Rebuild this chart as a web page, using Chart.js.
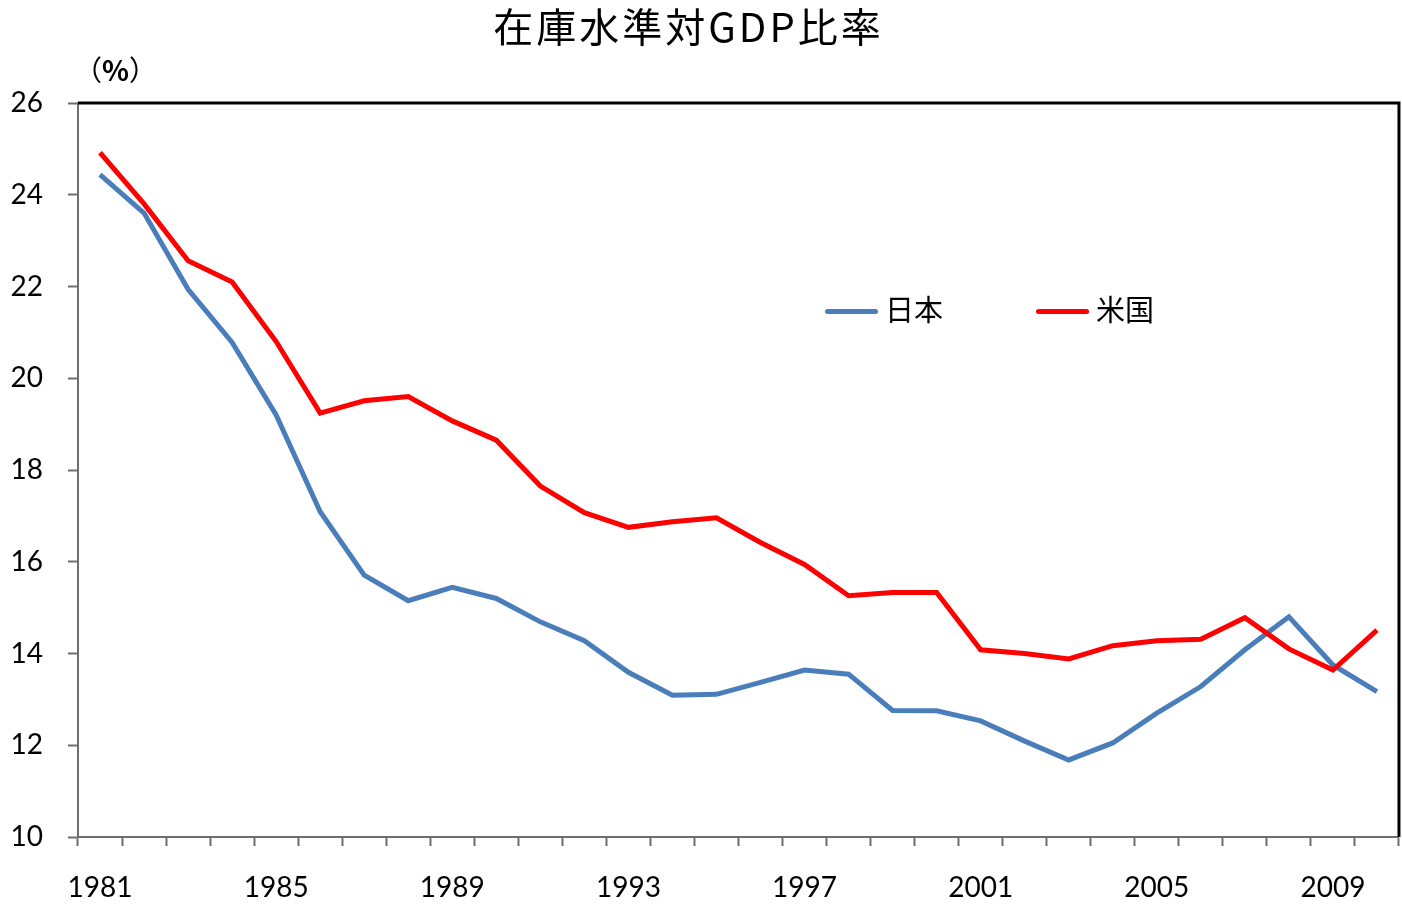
<!DOCTYPE html>
<html>
<head>
<meta charset="utf-8">
<script src="https://cdn.jsdelivr.net/npm/chart.js@4/dist/chart.umd.min.js"></script>
<style>
  html, body { margin: 0; padding: 0; background: #fff; }
  #wrap { position: relative; width: 1402px; height: 909px; }
  #title { position: absolute; left: 0; top: -3px; width: 1377px; text-align: center;
    font: 40px "Noto Sans CJK JP"; letter-spacing: 3px; color: #000; line-height: 56px; }
  #unit { position: absolute; left: 74px; top: 50px; font: 28px "Noto Sans CJK JP"; color: #000; line-height: 38px; }
  #unit b { font-weight: 700; }
  #legend { position: absolute; top: 289px; left: 825px; font: 29px "Noto Sans CJK JP"; color: #000; }
  .item { position: absolute; top: 0; white-space: nowrap; line-height: 38px; }
  .swatch { display: inline-block; width: 53px; height: 5px; border-radius: 3px; vertical-align: middle; margin-right: 7px; position: relative; top: -2px; }
</style>
</head>
<body>
<div id="wrap">
  <canvas id="myChart" width="1402" height="909"></canvas>
  <div id="title">在庫水準対GDP比率</div>
  <div id="unit">（<b>%</b>）</div>
  <div id="legend"></div>
</div>
<script>
const years = ['1981','1982','1983','1984','1985','1986','1987','1988','1989','1990',
               '1991','1992','1993','1994','1995','1996','1997','1998','1999','2000',
               '2001','2002','2003','2004','2005','2006','2007','2008','2009','2010'];
const shownYears = ['1981','1985','1989','1993','1997','2001','2005','2009'];
const japan = [24.44, 23.60, 21.94, 20.78, 19.20, 17.09, 15.71, 15.15, 15.44, 15.20,
               14.69, 14.28, 13.59, 13.09, 13.11, 13.37, 13.64, 13.55, 12.76, 12.75,
               12.53, 12.09, 11.68, 12.05, 12.70, 13.28, 14.08, 14.80, 13.75, 13.17];
const usa = [24.92, 23.80, 22.56, 22.10, 20.80, 19.24, 19.51, 19.60, 19.07, 18.65,
             17.65, 17.07, 16.75, 16.87, 16.96, 16.42, 15.94, 15.26, 15.33, 15.33,
             14.08, 14.00, 13.88, 14.17, 14.28, 14.31, 14.78, 14.10, 13.64, 14.51];
const seriesNames = ['日本', '米国'];

const axisGray = '#6e6e6e';

// top and right edges of the plot area are black
const frame = {
  id: 'frame',
  beforeDatasetsDraw(chart) {
    const a = chart.chartArea;
    const c = chart.ctx;
    c.save();
    c.strokeStyle = '#000';
    c.lineWidth = 3;
    c.beginPath();
    c.moveTo(a.left, a.top);
    c.lineTo(a.right, a.top);
    c.lineTo(a.right, a.bottom);
    c.stroke();
    c.restore();
  }
};

const ctx = document.getElementById('myChart');
const myChart = new Chart(ctx, {
  type: 'line',
  data: {
    labels: years,
    datasets: [{
      label: seriesNames[0],
      data: japan,
      borderColor: '#4A7EBB',
      borderWidth: 5,
      pointRadius: 0,
      tension: 0,
      order: 1
    }, {
      label: seriesNames[1],
      data: usa,
      borderColor: '#FF0000',
      borderWidth: 5,
      pointRadius: 0,
      tension: 0,
      order: 0
    }]
  },
  options: {
    responsive: false,
    animation: false,
    layout: { padding: { top: 103, right: 3, left: 0, bottom: 0 } },
    plugins: {
      legend: { display: false },
      title: { display: false },
      tooltip: { enabled: false }
    },
    scales: {
      x: {
        afterFit(s) { s.height = 72; },
        offset: true,
        grid: { offset: true, drawOnChartArea: false, tickLength: 9, color: axisGray, tickWidth: 2 },
        border: { color: axisGray, width: 2 },
        ticks: {
          autoSkip: false,
          maxRotation: 0,
          padding: 25,
          color: '#000',
          font: { family: 'Lato', size: 28 },
          callback(v, i) {
            const y = years[i];
            return shownYears.includes(y) ? y : '';
          }
        }
      },
      y: {
        afterFit(s) { s.width = 78; },
        min: 10,
        max: 26,
        grid: { drawOnChartArea: false, tickLength: 10, color: axisGray, tickWidth: 2 },
        border: { color: axisGray, width: 2 },
        ticks: {
          stepSize: 2,
          padding: 25,
          color: '#000',
          font: { family: 'Lato', size: 28 }
        }
      }
    }
  },
  plugins: [frame]
});

const legendBox = document.getElementById('legend');
const legendOffsets = [0, 211];
myChart.data.datasets.forEach((d, i) => {
  const item = document.createElement('div');
  item.className = 'item';
  item.style.left = legendOffsets[i] + 'px';
  item.innerHTML = '<span class="swatch" style="background:' + d.borderColor + '"></span>' + d.label;
  legendBox.appendChild(item);
});
</script>
</body>
</html>
